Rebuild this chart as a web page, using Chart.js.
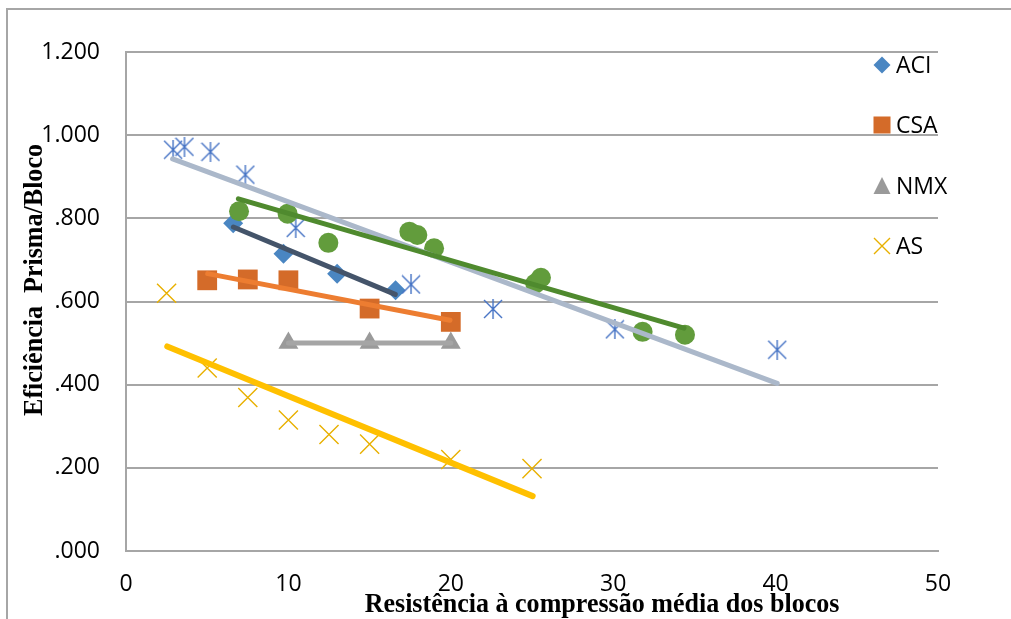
<!DOCTYPE html>
<html><head><meta charset="utf-8">
<script src="https://cdn.jsdelivr.net/npm/chart.js@4"></script>
<style>html,body{margin:0;padding:0;background:#fff;overflow:hidden}canvas{display:block}</style>
</head><body>
<canvas id="c" width="1011" height="619"></canvas>
<script>
// ---- data ----
const xTickLabels = ['0', '10', '20', '30', '40', '50'];
const yTickLabels = ['.000', '.200', '.400', '.600', '.800', '1.000', '1.200'];
const legendNames = ['ACI', 'CSA', 'NMX', 'AS'];

const aciX = [6.6, 9.7, 13.0, 16.6];
const aciY = [0.788, 0.715, 0.667, 0.627];
const csaX = [5, 7.5, 10, 15, 20];
const csaY = [0.651, 0.653, 0.651, 0.583, 0.551];
const nmxX = [10, 15, 20];
const nmxY = [0.500, 0.500, 0.500];
const asX = [2.5, 5, 7.5, 10, 12.5, 15, 20, 25];
const asY = [0.620, 0.440, 0.369, 0.315, 0.280, 0.257, 0.220, 0.198];
const starX = [2.9, 3.6, 5.2, 7.35, 10.45, 17.55, 22.6, 30.1, 40.1];
const starY = [0.965, 0.972, 0.960, 0.905, 0.777, 0.641, 0.582, 0.533, 0.484];
const circX = [6.96, 9.95, 12.46, 17.45, 17.94, 18.97, 25.2, 25.55, 31.81, 34.42];
const circY = [0.817, 0.811, 0.741, 0.768, 0.760, 0.728, 0.643, 0.657, 0.527, 0.520];

// trend lines (end points)
const trendStarX = [2.87, 40.1];  const trendStarY = [0.943, 0.403];
const trendCircX = [6.92, 34.36]; const trendCircY = [0.847, 0.536];
const trendAciX = [6.61, 16.58];  const trendAciY = [0.779, 0.617];
const trendCsaX = [5.03, 19.95];  const trendCsaY = [0.667, 0.555];
const trendNmxX = [10, 20];       const trendNmxY = [0.500, 0.500];
const trendAsX = [2.54, 25.04];   const trendAsY = [0.492, 0.132];

const xTitle = 'Resistência à compressão média dos blocos';
const yTitle = 'Eficiência  Prisma/Bloco';

// ---- helpers ----
const pts = (xs, ys) => xs.map((x, i) => ({x: x, y: ys[i]}));

function makeAsterisk(size, color, lw) {
  const c = document.createElement('canvas');
  c.width = size; c.height = size;
  const g = c.getContext('2d');
  g.strokeStyle = color; g.lineWidth = lw;
  const m = 1;
  g.beginPath();
  g.moveTo(m, m); g.lineTo(size - m, size - m);
  g.moveTo(size - m, m); g.lineTo(m, size - m);
  g.moveTo(size / 2, 0); g.lineTo(size / 2, size);
  g.stroke();
  return c;
}
const asterisk = makeAsterisk(20, '#4472C4', 1.4);

const C_ACI = '#4A86C2', C_CSA = '#D46B29', C_NMX = '#9A9A9A', C_AS = '#E8B000';

function marker(type, color) {
  return {showLine: false, pointStyle: type, backgroundColor: color, borderColor: color, pointBorderWidth: 0};
}
function trend(xs, ys, color, w, order) {
  return {data: pts(xs, ys), showLine: true, pointRadius: 0, pointHoverRadius: 0,
    borderColor: color, borderWidth: w, borderCapStyle: 'round', backgroundColor: color, order: order};
}

const datasets = [
  Object.assign(marker('rectRot', C_ACI), {label: 'ACI', data: pts(aciX, aciY), pointRadius: 10, order: 20}),
  Object.assign(marker('rect', C_CSA), {label: 'CSA', data: pts(csaX, csaY), pointRadius: 14, order: 19}),
  Object.assign(marker('triangle', C_NMX), {label: 'NMX', data: pts(nmxX, nmxY), pointRadius: 11.5, order: 18}),
  {label: 'AS', data: pts(asX, asY), showLine: false, pointStyle: 'crossRot', pointRadius: 13.5,
    borderColor: C_AS, backgroundColor: C_AS, pointBorderWidth: 1.4, order: 17},
  {label: 's5', data: pts(starX, starY), showLine: false, pointStyle: asterisk, pointRadius: 10, order: 16},
  Object.assign(marker('circle', '#629C3C'), {label: 's6', data: pts(circX, circY), pointRadius: 10, order: 15}),
  trend(trendStarX, trendStarY, '#ABB8CA', 5, 6),
  trend(trendCircX, trendCircY, '#4F8A2E', 5, 5),
  trend(trendAciX, trendAciY, '#44546A', 5, 4),
  trend(trendCsaX, trendCsaY, '#ED7D31', 5, 3),
  trend(trendNmxX, trendNmxY, '#A5A5A5', 5, 2),
  trend(trendAsX, trendAsY, '#FFC000', 6, 1)
];

// custom legend drawn inside the plot area (as in the reference)
const legendPlugin = {
  id: 'innerLegend',
  afterDraw(chart) {
    const ctx = chart.ctx;
    const mx = 882, tx = 896, rows = [65, 125, 186, 246];
    ctx.save();
    ctx.font = '23px "Open Sans"';
    ctx.fillStyle = '#000';
    ctx.textBaseline = 'middle';
    ctx.textAlign = 'left';
    rows.forEach((y, i) => {
      ctx.save();
      if (i === 0) {
        ctx.fillStyle = C_ACI; ctx.beginPath();
        ctx.moveTo(mx, y - 8.5); ctx.lineTo(mx + 8.5, y); ctx.lineTo(mx, y + 8.5); ctx.lineTo(mx - 8.5, y); ctx.closePath(); ctx.fill();
      } else if (i === 1) {
        ctx.fillStyle = C_CSA; ctx.fillRect(mx - 8.5, y - 8.5, 17, 17);
      } else if (i === 2) {
        ctx.fillStyle = C_NMX; ctx.beginPath();
        ctx.moveTo(mx, y - 9); ctx.lineTo(mx + 8.5, y + 8); ctx.lineTo(mx - 8.5, y + 8); ctx.closePath(); ctx.fill();
      } else {
        ctx.strokeStyle = C_AS; ctx.lineWidth = 1.4; ctx.beginPath();
        ctx.moveTo(mx - 8, y - 8); ctx.lineTo(mx + 8, y + 8); ctx.moveTo(mx + 8, y - 8); ctx.lineTo(mx - 8, y + 8); ctx.stroke();
      }
      ctx.restore();
      ctx.fillText(legendNames[i], tx, y + 1);
    });
    ctx.restore();
  }
};

// axis titles and outer frame
const framePlugin = {
  id: 'frame',
  beforeDraw(chart) {
    const ctx = chart.ctx;
    ctx.save();
    ctx.fillStyle = '#fff';
    ctx.fillRect(0, 0, chart.width, chart.height);
    ctx.strokeStyle = '#A6A6A6';
    ctx.lineWidth = 2;
    ctx.beginPath();
    ctx.moveTo(7, 619); ctx.lineTo(7, 9); ctx.lineTo(1011, 9);
    ctx.stroke();
    ctx.restore();
  },
  afterDraw(chart) {
    const ctx = chart.ctx;
    ctx.save();
    ctx.fillStyle = '#000';
    ctx.font = 'bold 28px "Liberation Serif"';
    ctx.textAlign = 'center';
    ctx.textBaseline = 'alphabetic';
    ctx.save();
    ctx.translate(602, 612);
    ctx.scale(0.93, 1);
    ctx.fillText(xTitle, 0, 0);
    ctx.restore();
    ctx.save();
    ctx.translate(42, 280);
    ctx.rotate(-Math.PI / 2);
    ctx.scale(0.93, 1);
    ctx.fillText(yTitle, 0, 0);
    ctx.restore();
    ctx.restore();
  }
};

Chart.defaults.font.family = '"Open Sans"';
new Chart(document.getElementById('c'), {
  type: 'scatter',
  data: {datasets: datasets},
  options: {
    responsive: false,
    animation: false,
    devicePixelRatio: 1,
    layout: {padding: {left: 0, top: 52, right: 73, bottom: 0}},
    plugins: {legend: {display: false}, tooltip: {enabled: false}},
    scales: {
      x: {
        type: 'linear', min: 0, max: 50,
        afterFit: s => { s.height = 68; },
        grid: {drawOnChartArea: false, drawTicks: false},
        border: {display: true, color: '#A6A6A6', width: 2},
        ticks: {stepSize: 10, padding: 20, color: '#000', font: {size: 23},
          callback: (v, i) => xTickLabels[i]}
      },
      y: {
        type: 'linear', min: 0, max: 1.2,
        afterFit: s => { s.width = 126; },
        grid: {color: '#A6A6A6', lineWidth: 2, drawTicks: false},
        border: {display: true, color: '#A6A6A6', width: 2},
        ticks: {stepSize: 0.2, padding: 26, color: '#000', font: {size: 23},
          callback: (v, i) => yTickLabels[i]}
      }
    }
  },
  plugins: [framePlugin, legendPlugin]
});
</script>
</body></html>
